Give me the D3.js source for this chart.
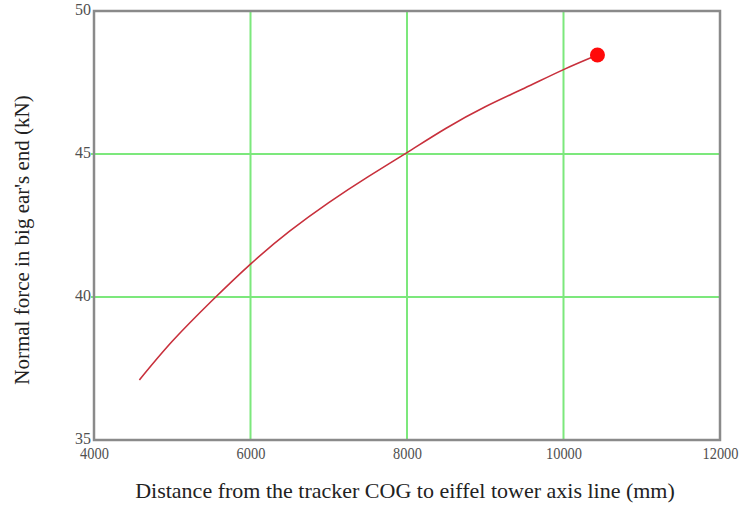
<!DOCTYPE html>
<html>
<head>
<meta charset="utf-8">
<script src="https://cdn.jsdelivr.net/npm/d3@7"></script>
<style>
  body { margin: 0; background: #fff; }
  svg text { font-family: "Liberation Serif", "DejaVu Serif", serif; }
</style>
</head>
<body>
<svg id="chart" width="748" height="518"></svg>
<script>
// distance from tracker COG (mm) and normal force (kN)
var distance = [4580, 5000, 5500, 6000, 6500, 7000, 7500, 8000, 8500, 9000, 9500, 10000, 10434];
var force = [37.1, 38.45, 39.85, 41.15, 42.3, 43.3, 44.2, 45.05, 45.9, 46.65, 47.3, 47.95, 48.46];
var xTicks = [4000, 6000, 8000, 10000, 12000];
var yTicks = [35, 40, 45, 50];

var svg = d3.select("#chart");
var plotLeft = 94, plotRight = 720, plotTop = 11, plotBottom = 440;

var x = d3.scaleLinear().domain([4000, 12000]).range([plotLeft, plotRight]);
var y = d3.scaleLinear().domain([35, 50]).range([plotBottom, plotTop]);

// green grid lines (inner ticks only)
svg.selectAll("line.vgrid")
    .data(xTicks.slice(1, -1))
    .enter()
    .append("line")
    .attr("class", "vgrid")
    .attr("x1", function(d) { return x(d); })
    .attr("x2", function(d) { return x(d); })
    .attr("y1", plotTop)
    .attr("y2", plotBottom)
    .attr("stroke", "#7ce87c")
    .attr("stroke-width", 2);

svg.selectAll("line.hgrid")
    .data(yTicks.slice(1, -1))
    .enter()
    .append("line")
    .attr("class", "hgrid")
    .attr("x1", plotLeft - 3)
    .attr("x2", plotRight)
    .attr("y1", function(d) { return y(d); })
    .attr("y2", function(d) { return y(d); })
    .attr("stroke", "#7ce87c")
    .attr("stroke-width", 2);

// frame
svg.append("rect")
    .attr("x", plotLeft)
    .attr("y", plotTop)
    .attr("width", plotRight - plotLeft)
    .attr("height", plotBottom - plotTop)
    .attr("fill", "none")
    .attr("stroke", "#8a8a8a")
    .attr("stroke-width", 2.5);

// tick labels through the axes (narrow digits like the original)
var xAxis = svg.append("g")
    .attr("transform", "translate(0," + plotBottom + ")")
    .call(d3.axisBottom(x).tickValues(xTicks).tickSize(0).tickPadding(7).tickFormat(d3.format("d")));
xAxis.select(".domain").remove();
xAxis.selectAll("text")
    .attr("fill", "#505050")
    .style("font-size", "17px")
    .attr("textLength", function(d) { return String(d).length * 7.2; })
    .attr("lengthAdjust", "spacingAndGlyphs");

var yAxis = svg.append("g")
    .attr("transform", "translate(" + plotLeft + ",0)")
    .call(d3.axisLeft(y).tickValues(yTicks).tickSize(0).tickPadding(3));
yAxis.select(".domain").remove();
yAxis.selectAll("text")
    .attr("fill", "#505050")
    .attr("dy", "0.2em")
    .style("font-size", "16px");

// the curve
var line = d3.line()
    .x(function(d, i) { return x(distance[i]); })
    .y(function(d) { return y(d); })
    .curve(d3.curveNatural);

svg.append("path")
    .datum(force)
    .attr("d", line)
    .attr("fill", "none")
    .attr("stroke", "#c8303c")
    .attr("stroke-width", 1.6);

// end marker
var last = distance.length - 1;
svg.append("circle")
    .attr("cx", x(distance[last]))
    .attr("cy", y(force[last]))
    .attr("r", 7.5)
    .attr("fill", "#ff0a0a");

// axis titles
svg.append("text")
    .attr("x", 405)
    .attr("y", 498)
    .attr("text-anchor", "middle")
    .attr("fill", "#222")
    .style("font-size", "22px")
    .text("Distance from the tracker COG to eiffel tower axis line (mm)");

svg.append("text")
    .attr("transform", "translate(29,240) rotate(-90)")
    .attr("text-anchor", "middle")
    .attr("fill", "#222")
    .style("font-size", "21px")
    .text("Normal force in big ear's end (kN)");
</script>
</body>
</html>
